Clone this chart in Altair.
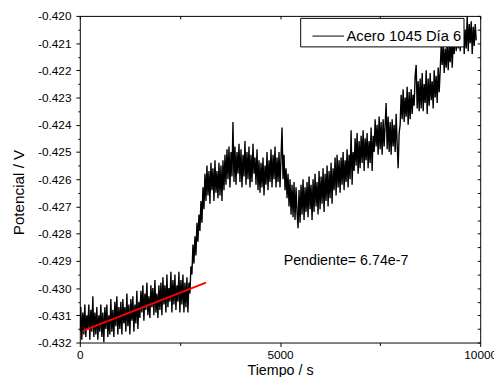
import altair as alt
import pandas as pd

# Potencial (V), one sample every 25 s (0 .. 9900 s)
potencial = [
    -0.4316, -0.4307, -0.4319, -0.4309, -0.4317, -0.4306, -0.4318, -0.4310, -0.4315, -0.4306,
    -0.4319, -0.4308, -0.4316, -0.4303, -0.4318, -0.4309, -0.4317, -0.4307, -0.4319, -0.4310,
    -0.4316, -0.4306, -0.4318, -0.4309, -0.4320, -0.4307, -0.4315, -0.4306, -0.4318, -0.4310,
    -0.4317, -0.4304, -0.4316, -0.4308, -0.4318, -0.4305, -0.4314, -0.4303, -0.4317, -0.4307,
    -0.4315, -0.4305, -0.4317, -0.4304, -0.4313, -0.4307, -0.4316, -0.4302, -0.4314, -0.4306,
    -0.4317, -0.4304, -0.4312, -0.4303, -0.4316, -0.4306, -0.4313, -0.4301, -0.4315, -0.4305,
    -0.4311, -0.4301, -0.4309, -0.4299, -0.4312, -0.4302, -0.4308, -0.4298, -0.4310, -0.4303,
    -0.4311, -0.4299, -0.4307, -0.4300, -0.4310, -0.4297, -0.4309, -0.4302, -0.4311, -0.4299,
    -0.4308, -0.4298, -0.4310, -0.4296, -0.4306, -0.4299, -0.4309, -0.4295, -0.4307, -0.4300,
    -0.4305, -0.4294, -0.4309, -0.4297, -0.4306, -0.4295, -0.4308, -0.4299, -0.4305, -0.4294,
    -0.4309, -0.4297, -0.4306, -0.4295, -0.4309, -0.4298, -0.4307, -0.4296,
    -0.4309, -0.4298, -0.4302, -0.4292,
    -0.4295, -0.4284, -0.4291, -0.4281, -0.4288, -0.4276, -0.4283, -0.4273,
    -0.4279, -0.4268, -0.4276, -0.4263, -0.4271,
    -0.4258, -0.4268, -0.4255, -0.4266, -0.4257, -0.4269, -0.4254, -0.4264, -0.4256, -0.4268,
    -0.4253, -0.4265, -0.4257, -0.4267, -0.4254,
    -0.4266, -0.4255, -0.4268, -0.4253, -0.4264, -0.4251,
    -0.4262, -0.4249, -0.4260, -0.4248, -0.4263, -0.4250, -0.4259, -0.4239, -0.4261, -0.4248,
    -0.4262, -0.4250, -0.4258, -0.4247,
    -0.4261, -0.4249, -0.4263, -0.4251, -0.4259, -0.4246, -0.4262, -0.4250, -0.4260, -0.4248,
    -0.4263, -0.4251, -0.4261, -0.4247, -0.4258, -0.4252, -0.4262, -0.4249, -0.4264, -0.4253,
    -0.4265, -0.4254, -0.4263, -0.4252, -0.4266, -0.4255, -0.4262, -0.4250, -0.4264, -0.4253,
    -0.4261, -0.4249, -0.4263, -0.4251, -0.4260, -0.4248, -0.4263, -0.4252, -0.4261, -0.4250,
    -0.4263, -0.4252, -0.4241, -0.4260, -0.4251, -0.4264, -0.4256, -0.4267,
    -0.4258, -0.4270, -0.4260, -0.4273, -0.4262, -0.4274, -0.4261, -0.4275, -0.4263, -0.4272,
    -0.4278, -0.4264,
    -0.4276, -0.4262, -0.4273, -0.4260, -0.4275, -0.4263, -0.4272, -0.4261, -0.4274, -0.4259,
    -0.4271, -0.4262, -0.4275, -0.4260, -0.4272, -0.4258, -0.4270, -0.4261, -0.4273, -0.4257,
    -0.4271, -0.4259, -0.4269, -0.4256, -0.4272, -0.4258, -0.4268, -0.4255, -0.4270, -0.4257,
    -0.4267, -0.4254, -0.4269, -0.4256,
    -0.4264, -0.4252, -0.4266, -0.4251, -0.4263, -0.4253,
    -0.4265, -0.4252, -0.4262, -0.4250, -0.4264, -0.4253, -0.4261, -0.4249, -0.4263, -0.4251,
    -0.4260, -0.4242, -0.4262, -0.4250,
    -0.4257, -0.4245, -0.4255, -0.4243, -0.4258, -0.4246,
    -0.4256, -0.4244, -0.4254, -0.4242, -0.4257, -0.4245, -0.4253, -0.4243, -0.4256, -0.4246,
    -0.4254, -0.4241, -0.4257, -0.4244,
    -0.4250, -0.4238, -0.4248, -0.4240, -0.4251, -0.4237,
    -0.4249, -0.4239, -0.4251, -0.4238, -0.4248, -0.4240, -0.4232, -0.4249, -0.4237, -0.4250,
    -0.4239, -0.4251, -0.4238, -0.4248, -0.4240, -0.4250, -0.4236, -0.4247, -0.4256, -0.4243,
    -0.4240, -0.4229, -0.4238, -0.4227, -0.4239, -0.4230, -0.4237, -0.4226, -0.4240, -0.4228,
    -0.4238, -0.4227, -0.4236, -0.4229,
    -0.4233, -0.4222, -0.4218, -0.4234, -0.4224, -0.4235,
    -0.4223, -0.4234, -0.4221, -0.4235, -0.4225, -0.4232, -0.4220, -0.4236, -0.4223, -0.4233,
    -0.4221, -0.4231, -0.4224, -0.4234, -0.4220, -0.4230, -0.4222, -0.4232, -0.4219, -0.4228,
    -0.4220, -0.4211, -0.4218, -0.4210, -0.4221, -0.4212, -0.4219, -0.4209, -0.4220, -0.4211,
    -0.4217, -0.4208, -0.4219,
    -0.4210, -0.4214, -0.4203, -0.4213, -0.4205, -0.4212, -0.4202,
    -0.4213, -0.4204, -0.4211, -0.4202, -0.4214, -0.4205, -0.4212, -0.4200, -0.4213, -0.4203,
    -0.4210, -0.4202, -0.4214, -0.4204, -0.4211, -0.4203, -0.4209,
]
paso_s = 25
tiempo = [i * paso_s for i in range(len(potencial))]
serie = "Acero 1045 Día 6"

# linear fit (red)
ajuste_t = [75, 3150]
ajuste_v = [-0.43157, -0.42980]

# annotation
anot_texto = ["Pendiente= 6.74e-7"]
anot_t = [5090]
anot_v = [-0.42899]

y_ticks = [round(-0.432 + 0.0005 * k, 4) for k in range(25)]
x_ticks = [0, 2500, 5000, 7500, 10000]

df = pd.DataFrame({"t": tiempo, "v": potencial, "serie": serie})
df_fit = pd.DataFrame({"t": ajuste_t, "v": ajuste_v})
df_txt = pd.DataFrame({"t": anot_t, "v": anot_v, "txt": anot_texto})

xs = alt.Scale(domain=[0, 10000], nice=False, zero=False)
ys = alt.Scale(domain=[-0.432, -0.420], nice=False, zero=False)

major_y = "abs(round(datum.value*2000)) % 2 == 0"
major_x = "datum.value % 5000 == 0"

left_axis = alt.Axis(
    values=y_ticks, orient="left", title="Potencial / V", grid=False, domain=False,
    labelExpr=major_y + " ? replace(format(datum.value, '.3f'), '\u2212', '-') : ''",
    tickSize={"condition": {"test": major_y, "value": 4}, "value": 2},
    labelFontSize=12, labelPadding=5, labelColor="black", tickColor="black",
    labelFlush=False, labelOverlap=False,
    titleFontSize=15.5, titleFontWeight="normal", titleColor="black",
    titleX=-62, titleY=179, titleAngle=-90, titleAlign="center", titleBaseline="middle",
)
bottom_axis = alt.Axis(
    values=x_ticks, orient="bottom", title="Tiempo / s", grid=False, domain=False,
    labelExpr=major_x + " ? format(datum.value, 'd') : ''",
    tickSize={"condition": {"test": major_x, "value": 4}, "value": 3},
    labelFontSize=12, labelPadding=3, labelColor="black", tickColor="black",
    labelFlush=False, labelOverlap=False,
    titleFontSize=14.5, titleFontWeight="normal", titleColor="black",
    titleX=203.5, titleY=22, titleAlign="center", titleBaseline="top",
)
right_axis = alt.Axis(
    values=y_ticks, orient="right", title=None, grid=False, domain=False, labels=False,
    tickSize={"expr": "-3"}, tickColor="black",
)
top_axis = alt.Axis(
    values=x_ticks, orient="top", title=None, grid=False, domain=False, labels=False,
    tickSize={"expr": "-3"}, tickColor="black",
)

datos = alt.Chart(df).mark_line(strokeWidth=1.4, clip=True).encode(
    x=alt.X("t:Q", scale=xs, axis=bottom_axis),
    y=alt.Y("v:Q", scale=ys, axis=left_axis),
    color=alt.Color(
        "serie:N",
        scale=alt.Scale(domain=[serie], range=["black"]),
        legend=alt.Legend(
            title=None, orient="none", legendX=224, legendY=2,
            strokeColor="black", fillColor="white", padding=2,
            symbolType="stroke", symbolSize=1024, symbolStrokeWidth=1,
            symbolStrokeColor="black", symbolOffset=10,
            labelFontSize=15, labelColor="black", labelOffset=2,
        ),
    ),
)

ajuste = alt.Chart(df_fit).mark_line(color="#ff0000", strokeWidth=2).encode(
    x=alt.X("t:Q", scale=xs, axis=top_axis),
    y=alt.Y("v:Q", scale=ys, axis=right_axis),
)

texto = alt.Chart(df_txt).mark_text(
    align="left", baseline="middle", fontSize=14.5, color="black", font="Liberation Sans"
).encode(
    x=alt.X("t:Q", scale=xs, axis=None),
    y=alt.Y("v:Q", scale=ys, axis=None),
    text="txt:N",
)

chart = (
    alt.layer(datos, ajuste, texto)
    .resolve_axis(x="independent", y="independent")
    .properties(
        width=407, height=332,
        autosize=alt.AutoSizeParams(type="none"),
        padding={"left": 73, "top": 5, "right": 14, "bottom": 32},
        background="white",
    )
    .configure(font="Liberation Sans")
    .configure_view(stroke="black", strokeWidth=1)
)

chart.save("out.html", embed_options={"renderer": "svg", "actions": False})
